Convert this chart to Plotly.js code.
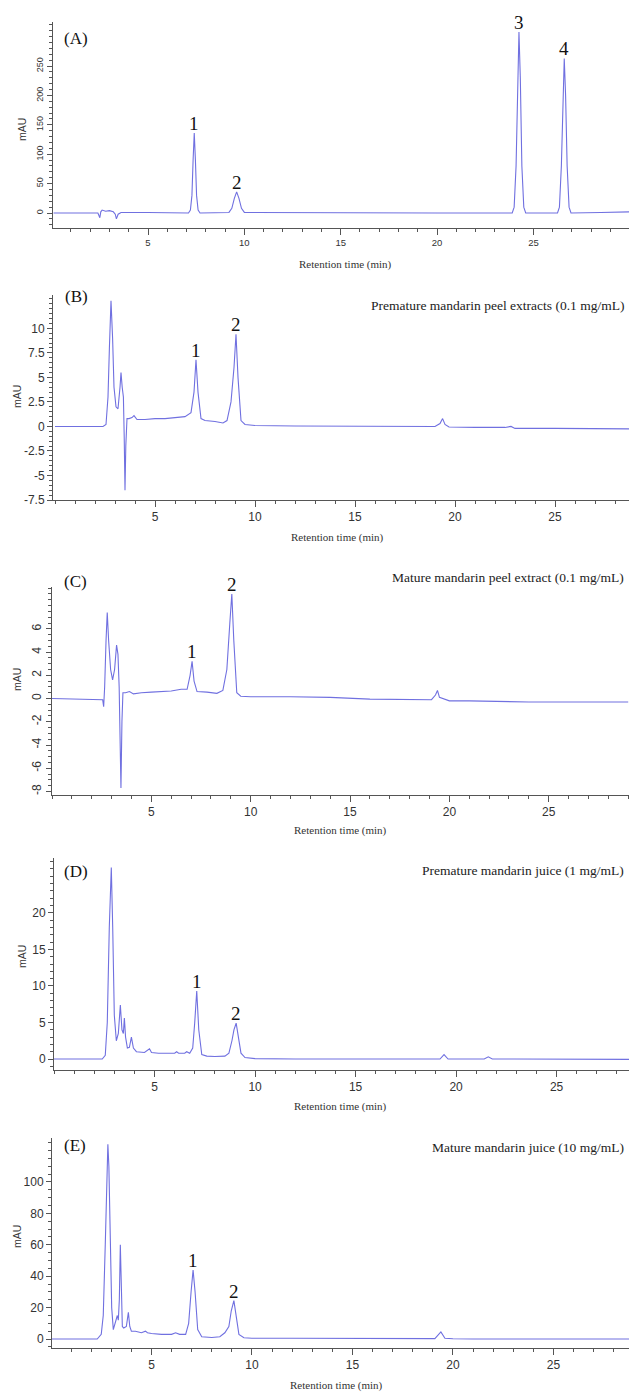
<!DOCTYPE html>
<html>
<head>
<meta charset="utf-8">
<script src="https://cdn.plot.ly/plotly-3.0.1.min.js"></script>
<style>html,body{margin:0;padding:0;background:#fff;}#chart{width:631px;height:1394px;}</style>
</head>
<body>
<div id="chart"></div>
<script>
// ---------- data ----------
var panelLetters = ['(A)', '(B)', '(C)', '(D)', '(E)'];
var panelTitles = ['', 'Premature mandarin peel extracts (0.1 mg/mL)', 'Mature mandarin peel extract (0.1 mg/mL)',
                   'Premature mandarin juice (1 mg/mL)', 'Mature mandarin juice (10 mg/mL)'];
var xTitle = 'Retention time (min)';
var yTitle = 'mAU';

var xTicks = [5, 10, 15, 20, 25];
var yTicksA = [0, 50, 100, 150, 200, 250];
var yTicksB = [-7.5, -5, -2.5, 0, 2.5, 5, 7.5, 10];
var yTicksC = [-8, -6, -4, -2, 0, 2, 4, 6];
var yTicksD = [0, 5, 10, 15, 20];
var yTicksE = [0, 20, 40, 60, 80, 100];

var timeA = [0.1, 2.4, 2.5, 2.55, 2.62, 2.8, 3.0, 3.2, 3.3, 3.36, 3.45, 3.6, 5.0, 6.5, 6.6, 7.1, 7.2, 7.28, 7.34, 7.4, 7.46, 7.52, 7.6, 7.7,
             9.2, 9.35, 9.48, 9.6, 9.72, 9.85, 10.0, 15, 20, 23.9, 24.0, 24.1, 24.18, 24.25, 24.32, 24.4, 24.5, 24.6,
             26.25, 26.35, 26.45, 26.53, 26.6, 26.67, 26.75, 26.85, 26.95, 28.5, 30];
var signalA = [0, 0, -8, 2, 5, 3, 4, 2, -2, -10, -2, 1, 1, 1, 0, 0, 5, 30, 90, 136, 90, 30, 5, 0,
               1, 8, 25, 36, 25, 8, 1, 0, 0, 0, 10, 80, 230, 308, 230, 80, 10, 0,
               0, 10, 80, 200, 263, 200, 80, 10, 0, 1, 2];
var peakTimesA = [7.4, 9.6, 24.25, 26.6];
var peakNamesA = ['1', '2', '3', '4'];

var timeB = [0, 2.4, 2.55, 2.65, 2.72, 2.8, 2.88, 2.95, 3.05, 3.15, 3.25, 3.3, 3.36, 3.42, 3.46, 3.5, 3.54, 3.6, 3.7, 3.85, 3.95, 4.1,
             4.5, 5.0, 5.5, 6.0, 6.5, 6.8, 6.95, 7.05, 7.15, 7.3, 7.5, 8.0, 8.4, 8.6, 8.8, 8.95, 9.05, 9.15, 9.3, 9.5, 10, 12, 15,
             18, 19.0, 19.25, 19.38, 19.5, 19.7, 21, 22.5, 22.8, 23.0, 25, 28.7];
var signalB = [0, 0, 0.2, 3, 8, 12.8, 9, 4, 2, 1.8, 4, 5.5, 4, 3.0, -1, -6.5, -2, 0.8, 0.8, 0.9, 1.1, 0.7,
               0.7, 0.8, 0.8, 0.9, 1.0, 1.4, 3.5, 6.8, 3.5, 0.8, 0.6, 0.5, 0.35, 0.6, 2.5, 6, 9.4, 5, 0.6, 0.2, 0.1, 0.05, 0,
               0, 0, 0.3, 0.8, 0.2, -0.05, -0.1, -0.1, 0, -0.2, -0.2, -0.25];
var peakTimesB = [7.05, 9.05];
var peakNamesB = ['1', '2'];

var timeC = [0, 2.55, 2.6, 2.65, 2.72, 2.78, 2.85, 2.95, 3.05, 3.15, 3.25, 3.32, 3.38, 3.42, 3.47, 3.52, 3.57, 3.7, 3.9, 4.1,
             4.5, 5, 5.5, 6.0, 6.5, 6.8, 6.95, 7.05, 7.15, 7.3, 7.8, 8.3, 8.6, 8.8, 8.95, 9.05, 9.15, 9.3, 9.5, 10, 12, 14,
             16, 18, 19.1, 19.3, 19.4, 19.5, 20, 21, 22, 24, 29];
var signalC = [0, -0.1, -0.7, 1, 5, 7.4, 5, 2.5, 1.6, 2.5, 4.6, 3.8, 1.0, -3, -7.7, -2, 0.5, 0.5, 0.6, 0.4,
               0.5, 0.55, 0.6, 0.65, 0.8, 0.8, 2, 3.2, 1.5, 0.6, 0.55, 0.45, 0.7, 2.5, 6.5, 9.0, 5, 0.5, 0.2, 0.15, 0.15, 0.1,
               -0.05, -0.1, -0.1, 0.3, 0.7, 0.1, -0.2, -0.2, -0.25, -0.3, -0.3];
var peakTimesC = [7.05, 9.05];
var peakNamesC = ['1', '2'];

var timeD = [0, 2.4, 2.55, 2.65, 2.75, 2.85, 2.92, 3.0, 3.1, 3.2, 3.3, 3.38, 3.45, 3.5, 3.56, 3.65, 3.75, 3.85, 3.95, 4.1,
             4.5, 4.75, 4.85, 5.2, 5.6, 6.0, 6.1, 6.2, 6.5, 6.6, 6.75, 6.9, 7.0, 7.1, 7.2, 7.35, 7.6, 8.0, 8.5, 8.7, 8.85, 8.95,
             9.06, 9.18, 9.3, 9.5, 10, 12, 15, 19.2, 19.4, 19.6, 21.4, 21.6, 21.8, 22.7, 22.8, 22.9, 28.6];
var signalD = [0, 0, 0.5, 5, 18, 26.2, 18, 6, 2.5, 3.5, 7.4, 4, 3.5, 5.6, 3, 1.5, 1.6, 3, 1.5, 1.0,
               0.9, 1.4, 0.9, 0.8, 0.8, 0.8, 1.0, 0.8, 0.8, 1.0, 0.8, 1.5, 5, 9.3, 4, 0.6, 0.4, 0.35, 0.4, 0.8, 2.5, 4,
               4.9, 3, 0.8, 0.2, 0.05, 0, 0, 0, 0.6, 0, 0, 0.3, 0, 0, 0.1, 0, -0.05];
var peakTimesD = [7.1, 9.06];
var peakNamesD = ['1', '2'];

var timeE = [0, 2.3, 2.5, 2.6, 2.7, 2.78, 2.83, 2.88, 2.95, 3.02, 3.1, 3.2, 3.3, 3.35, 3.4, 3.45, 3.5, 3.55, 3.62, 3.75, 3.85, 3.92,
             4.0, 4.2, 4.5, 4.7, 4.8, 5.0, 5.5, 6.0, 6.2, 6.4, 6.7, 6.85, 6.97, 7.07, 7.17, 7.3, 7.5, 8.0, 8.4, 8.65, 8.85,
             8.97, 9.1, 9.22, 9.35, 9.6, 10, 12, 15, 17, 19.1, 19.4, 19.6, 20, 21, 28.8];
var signalE = [0, 0, 3, 15, 60, 110, 124, 110, 60, 20, 6, 10, 15, 12, 25, 60, 25, 8, 7, 8, 17, 8,
               5, 5, 4, 5, 4, 3.5, 3, 3, 4, 3, 3, 10, 30, 44, 30, 6, 1.5, 1, 1.5, 4, 8,
               18, 24.5, 15, 3, 0.8, 0.5, 0.5, 0.3, 0.3, 0.3, 4.5, 0.5, 0.2, 0, 0];
var peakTimesE = [7.07, 9.1];
var peakNamesE = ['1', '2'];

// ---------- layout helpers ----------
var W = 631, H = 1394;
function px(x) { return x / W; }
function py(y) { return 1 - y / H; }

var lineColor = '#7070e0';
var axisColor = '#555';
var serif = 'Liberation Serif, Times New Roman, serif';
var sans = 'Liberation Sans, Arial, sans-serif';

var panels = [
  {t: timeA, s: signalA, pk: peakTimesA, pn: peakNamesA, yt: yTicksA, box: [53, 629, 22, 228], xr: [0.07, 29.96], yr: [-25.5, 325],
   ymin: 10, yang: -90, yfs: 9, xfs: 9.5, letter: [76, 39], title: null, mau: [22, 130], xt: [345, 265]},
  {t: timeB, s: signalB, pk: peakTimesB, pn: peakNamesB, yt: yTicksB, box: [53, 629, 295, 500], xr: [-0.1, 28.7], yr: [-7.5, 13.4],
   ymin: 0.5, yang: 0, yfs: 12, xfs: 12, letter: [76, 297], title: [626, 306], mau: [17, 397], xt: [337, 537]},
  {t: timeC, s: signalC, pk: peakTimesC, pn: peakNamesC, yt: yTicksC, box: [52, 629, 587, 795], xr: [0, 29.04], yr: [-8.3, 9.6],
   ymin: 0.5, yang: -90, yfs: 12, xfs: 12, letter: [75, 581], title: [626, 577], mau: [17, 680], xt: [340, 830]},
  {t: timeD, s: signalD, pk: peakTimesD, pn: peakNamesD, yt: yTicksD, box: [54, 629, 858, 1070], xr: [0, 28.6], yr: [-1.5, 27.5],
   ymin: 1, yang: 0, yfs: 12, xfs: 12, letter: [76, 872], title: [626, 870], mau: [22, 957], xt: [340, 1106]},
  {t: timeE, s: signalE, pk: peakTimesE, pn: peakNamesE, yt: yTicksE, box: [52, 629, 1138, 1348], xr: [0.05, 28.76], yr: [-5.7, 128],
   ymin: 5, yang: 0, yfs: 12, xfs: 12, letter: [75, 1145], title: [626, 1147], mau: [17, 1237], xt: [336, 1385]}
];

var data = [];
var layout = {
  width: W, height: H,
  margin: {l: 0, r: 0, t: 0, b: 0},
  paper_bgcolor: '#fff', plot_bgcolor: '#fff',
  showlegend: false,
  annotations: []
};

panels.forEach(function (p, i) {
  var n = i === 0 ? '' : String(i + 1);
  var xa = 'x' + n, ya = 'y' + n;
  data.push({
    type: 'scatter', mode: 'lines', x: p.t, y: p.s,
    xaxis: xa, yaxis: ya,
    line: {color: lineColor, width: 1.1},
    hoverinfo: 'skip'
  });
  layout['xaxis' + n] = {
    domain: [px(p.box[0]), px(p.box[1])], range: p.xr, anchor: ya,
    showgrid: false, zeroline: false, showline: true, linecolor: axisColor, linewidth: 1,
    ticks: 'outside', ticklen: 6, tickcolor: axisColor,
    tickmode: 'array', tickvals: xTicks, ticktext: xTicks.map(String),
    tickfont: {family: sans, size: p.xfs, color: '#333'},
    minor: {tickmode: 'linear', dtick: 1, tick0: 0, ticks: 'outside', ticklen: 3, tickcolor: axisColor, showgrid: false},
    fixedrange: true
  };
  layout['yaxis' + n] = {
    domain: [py(p.box[3]), py(p.box[2])], range: p.yr, anchor: xa,
    showgrid: false, zeroline: false, showline: true, linecolor: axisColor, linewidth: 1,
    ticks: 'outside', ticklen: 5, tickcolor: axisColor,
    tickmode: 'array', tickvals: p.yt, ticktext: p.yt.map(String),
    tickangle: p.yang,
    tickfont: {family: sans, size: p.yfs, color: '#333'},
    minor: {tickmode: 'linear', dtick: p.ymin, tick0: 0, ticks: 'outside', ticklen: 3, tickcolor: axisColor, showgrid: false},
    fixedrange: true
  };
  // panel letter
  layout.annotations.push({xref: 'paper', yref: 'paper', x: px(p.letter[0]), y: py(p.letter[1]),
    xanchor: 'center', yanchor: 'middle', showarrow: false, text: panelLetters[i],
    font: {family: serif, size: 17, color: '#111'}});
  // panel title
  if (p.title && panelTitles[i]) {
    layout.annotations.push({xref: 'paper', yref: 'paper', x: px(p.title[0]), y: py(p.title[1]),
      xanchor: 'right', yanchor: 'middle', showarrow: false, text: panelTitles[i],
      font: {family: serif, size: 13.5, color: '#222'}});
  }
  // y title
  layout.annotations.push({xref: 'paper', yref: 'paper', x: px(p.mau[0]), y: py(p.mau[1]),
    xanchor: 'center', yanchor: 'middle', showarrow: false, text: yTitle, textangle: -90,
    font: {family: sans, size: 10.5, color: '#333'}});
  // x title
  layout.annotations.push({xref: 'paper', yref: 'paper', x: px(p.xt[0]), y: py(p.xt[1]),
    xanchor: 'center', yanchor: 'middle', showarrow: false, text: xTitle,
    font: {family: serif, size: 11, color: '#333'}});
  // peak numbers, anchored to the apex of the trace at each labelled retention time
  p.pk.forEach(function (tp, k) {
    var best = 0, bd = 1e9;
    for (var j = 0; j < p.t.length; j++) {
      var d = Math.abs(p.t[j] - tp);
      if (d < bd) { bd = d; best = j; }
    }
    layout.annotations.push({xref: xa, yref: ya, x: p.t[best], y: p.s[best],
      xanchor: 'center', yanchor: 'bottom', yshift: -3, showarrow: false, text: p.pn[k],
      font: {family: serif, size: 19, color: '#111'}});
  });
});

Plotly.newPlot('chart', data, layout, {displayModeBar: false, staticPlot: true});
</script>
</body>
</html>
